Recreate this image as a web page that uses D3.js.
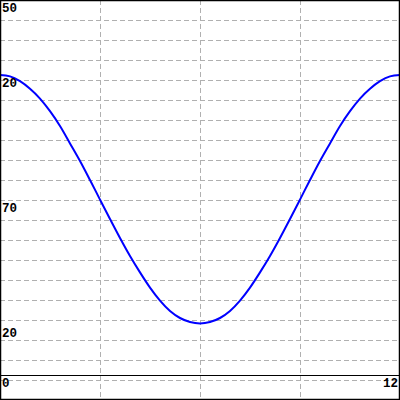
<!DOCTYPE html>
<html><head><meta charset="utf-8">
<script src="https://cdn.jsdelivr.net/npm/d3@7"></script>
<style>body{margin:0;background:#fff}svg{display:block}</style>
</head><body>
<script>
// curve data (x in units 0..12, y in plot units)
const xValues = [0,0.3,0.6,0.9,1.2,1.5,1.8,2.1,2.4,2.7,3.0,3.3,3.6,3.9,4.2,4.5,4.8,5.1,5.4,5.7,6.0,
                 6.3,6.6,6.9,7.2,7.5,7.8,8.1,8.4,8.7,9.0,9.3,9.6,9.9,10.2,10.5,10.8,11.1,11.4,11.7,12.0];
const yValues = [16.25,16.18,15.94,15.56,15.07,14.44,13.70,12.83,11.95,11.0,10.02,9.05,8.1,7.2,6.38,5.62,4.97,4.45,4.1,3.9,3.83,
                 3.9,4.1,4.45,4.97,5.62,6.38,7.2,8.1,9.05,10.02,11.0,11.95,12.83,13.70,14.44,15.07,15.56,15.94,16.18,16.25];
const yTickValues = [20, 16.25, 10, 3.75];
const yTickLabels = ["50", "20", "70", "20"];
const xTickValues = [0, 12];
const xTickLabels = ["0", "12"];
const yGridValues = [1,2,3,4,5,6,7,8,9,10,11,12,13,14,15,16,17,18,19];
const xGridValues = [3, 6, 9];
const xAxisValue = 1.25;

const W = 400, H = 400;
const x = d3.scaleLinear().domain([0, 12]).range([0, W]);
const y = d3.scaleLinear().domain([0, 20]).range([H, 0]);

const svg = d3.select("body").append("svg").attr("width", W).attr("height", H);
svg.append("rect").attr("width", W).attr("height", H).attr("fill", "#fff");

const grid = svg.append("g").attr("stroke", "#b0b0b0").attr("stroke-width", 1).attr("stroke-dasharray", "5,3");
grid.selectAll("line.h").data(yGridValues).join("line").attr("class", "h")
  .attr("x1", 0).attr("x2", W)
  .attr("y1", d => Math.round(y(d)) + 0.5).attr("y2", d => Math.round(y(d)) + 0.5);
grid.selectAll("line.v").data(xGridValues).join("line").attr("class", "v")
  .attr("y1", 0).attr("y2", H)
  .attr("x1", d => Math.round(x(d)) + 0.5).attr("x2", d => Math.round(x(d)) + 0.5);

// x axis line
svg.append("line").attr("x1", 0).attr("x2", W)
  .attr("y1", Math.round(y(xAxisValue)) + 0.5).attr("y2", Math.round(y(xAxisValue)) + 0.5)
  .attr("stroke", "#000").attr("stroke-width", 1);

// curve
const line = d3.line().x((d, i) => x(xValues[i])).y(d => y(d)).curve(d3.curveMonotoneX);
svg.append("path").datum(yValues).attr("d", line)
  .attr("fill", "none").attr("stroke", "#0000ff").attr("stroke-width", 2);

// frame
svg.append("rect").attr("x", 0.5).attr("y", 0.5).attr("width", W - 1).attr("height", H - 1)
  .attr("fill", "none").attr("stroke", "#000").attr("stroke-width", 1.5);

const font = "'Liberation Mono', 'Courier New', monospace";
svg.selectAll("text.yt").data(yTickValues).join("text").attr("class", "yt")
  .attr("x", 2).attr("y", d => y(d) + 11.5)
  .attr("font-family", font).attr("font-weight", "bold").attr("font-size", 12.5)
  .attr("fill", "#000").text((d, i) => yTickLabels[i]);
svg.selectAll("text.xt").data(xTickValues).join("text").attr("class", "xt")
  .attr("x", (d, i) => i === 0 ? x(d) + 2 : x(d) - 2)
  .attr("text-anchor", (d, i) => i === 0 ? "start" : "end")
  .attr("y", y(xAxisValue) + 11.5)
  .attr("font-family", font).attr("font-weight", "bold").attr("font-size", 12.5)
  .attr("fill", "#000").text((d, i) => xTickLabels[i]);
</script>
</body></html>
